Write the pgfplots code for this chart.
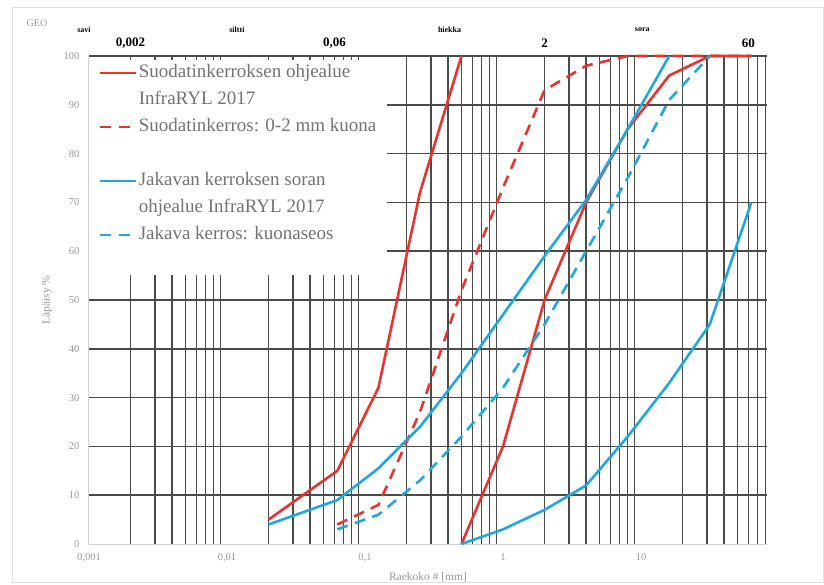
\documentclass[border=0pt]{standalone}
\usepackage{fontspec}
\setmainfont{Liberation Serif}
\usepackage{pgfplots}
\pgfplotsset{compat=1.18}
\definecolor{cred}{RGB}{232,52,44}
\definecolor{cblue}{RGB}{32,168,222}
\definecolor{gridc}{RGB}{75,75,75}
\definecolor{lbl}{RGB}{150,150,150}
\definecolor{legtxt}{RGB}{115,115,115}
\begin{document}
\begin{tikzpicture}
\path[use as bounding box] (0,0) rectangle (824pt,584pt);
\draw[black!12, line width=1pt] (12pt,2pt) rectangle (823pt,576pt);
\node[text=lbl, font=\fontsize{10}{12}\selectfont] at (37pt,561pt) {GEO};
\begin{axis}[
  at={(89pt,40pt)}, anchor=south west,
  scale only axis, width=678pt, height=488pt,
  xmode=log, xmin=0.001, xmax=81.8, ymin=0, ymax=100,
  clip=false,
  axis x line*=bottom, axis y line*=left,
  axis line style={draw=black!18, line width=1pt},
  xtick={0.001,0.01,0.1,1,10},
  xticklabels={{0,001},{0,01},{0,1},1,10},
  minor xtick={0.002,0.003,0.004,0.005,0.006,0.007,0.008,0.009,
               0.02,0.03,0.04,0.05,0.06,0.07,0.08,0.09,
               0.2,0.3,0.4,0.5,0.6,0.7,0.8,0.9,
               2,3,4,5,6,7,8,9,
               20,30,40,50,60,70,80},
  ytick={10,20,...,100},
  extra y ticks={0},
  extra y tick style={ymajorgrids=false},
  xminorgrids=true, xmajorgrids=false, ymajorgrids=true,
  major grid style={draw=gridc, line width=1.5pt},
  minor grid style={draw=gridc, line width=1.5pt},
  tick style={draw=none},
  major tick length=0pt, minor tick length=0pt,
  /pgf/number format/assume math mode=true,
  tick label style={font=\fontsize{10.5}{12}\selectfont, text=lbl},
  xticklabel style={yshift=-6pt},
  yticklabel style={xshift=-6pt},
  xlabel={Raekoko \# [mm]},
  ylabel={Läpäisy \%},
  every axis x label/.style={at={(axis description cs:0.5,0)}, anchor=center, yshift=-33pt, font=\fontsize{11.5}{13}\selectfont, text=lbl},
  every axis y label/.style={at={(axis description cs:-0.062,0.5)}, anchor=center, rotate=90, font=\fontsize{11.5}{13}\selectfont, text=lbl},
  legend style={at={(axis description cs:0,0.992)}, anchor=north west, fill=white, draw=none,
    font=\fontsize{19}{25}\selectfont, inner xsep=10pt, inner ysep=4pt, row sep=9pt,
    nodes={text=legtxt, inner xsep=1pt, inner ysep=0pt, text height=13pt, text depth=5pt}},
  legend cell align=left,
  legend image code/.code={\draw[#1] (0pt,0pt) -- (36pt,0pt);},
  every axis plot/.append style={line width=2.6pt},
]
\addplot[cred] coordinates {(0.02,5) (0.063,15) (0.125,32) (0.25,72) (0.5,100)};
\addlegendentry{Suodatinkerroksen ohjealue}
\addlegendimage{empty legend}
\addlegendentry{InfraRYL 2017}
\addplot[cred, forget plot] coordinates {(0.5,0) (1,20) (2,50) (4,70) (8,85) (16,96) (31.5,100) (63,100)};
\addplot[cred, dash pattern=on 11pt off 7.5pt] coordinates {(0.063,4) (0.125,8) (0.25,27) (0.5,52) (1,73) (2,93) (4,98) (8,100) (63,100)};
\addlegendentry{Suodatinkerros: 0-2 mm kuona}
\addlegendimage{empty legend}
\addlegendentry{\mbox{}}
\addplot[cblue] coordinates {(0.02,4) (0.063,9) (0.125,15.5) (0.25,24) (0.5,35) (1,47) (2,59) (4,70.5) (8,85) (16,100)};
\addlegendentry{Jakavan kerroksen soran}
\addlegendimage{empty legend}
\addlegendentry{ohjealue InfraRYL 2017}
\addplot[cblue, forget plot] coordinates {(0.5,0) (1,3) (2,7) (4,12) (8,22) (16,33) (31.5,45) (63,70)};
\addplot[cblue, dash pattern=on 11pt off 7.5pt] coordinates {(0.063,3) (0.125,6) (0.25,13) (0.5,22) (1,32) (2,45) (4,60) (8,75) (16,91) (31.5,100)};
\addlegendentry{Jakava kerros: kuonaseos}
\addlegendimage{empty legend}
\addlegendentry{\mbox{}}
\node[font=\bfseries\fontsize{8}{9}\selectfont] at (axis cs:0.00092,105.4) {savi};
\node[font=\bfseries\fontsize{8}{9}\selectfont] at (axis cs:0.0118,105.4) {siltti};
\node[font=\bfseries\fontsize{8}{9}\selectfont] at (axis cs:0.41,105.4) {hiekka};
\node[font=\bfseries\fontsize{8}{9}\selectfont] at (axis cs:10.2,105.4) {sora};
\node[font=\bfseries\fontsize{13}{14}\selectfont] at (axis cs:0.002,102.6) {0,002};
\node[font=\bfseries\fontsize{13}{14}\selectfont] at (axis cs:0.06,102.6) {0,06};
\node[font=\bfseries\fontsize{13}{14}\selectfont] at (axis cs:2,102.6) {2};
\node[font=\bfseries\fontsize{13}{14}\selectfont] at (axis cs:60,102.6) {60};
\end{axis}
\end{tikzpicture}
\end{document}
